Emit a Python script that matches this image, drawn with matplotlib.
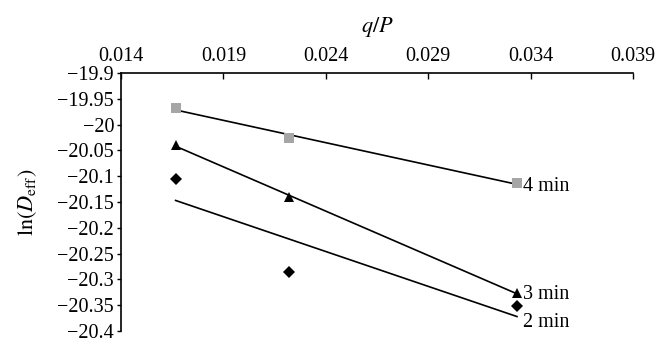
import numpy as np
import matplotlib
matplotlib.use("Agg")
import matplotlib.pyplot as plt

plt.rcParams['font.family'] = ['Liberation Serif', 'DejaVu Serif']
plt.rcParams['mathtext.fontset'] = 'stix'

q_over_p = [1/60, 1/45, 1/30]
series_names = ["2 min", "3 min", "4 min"]
y_2min = [-20.105, -20.285, -20.351]
y_3min = [-20.040, -20.140, -20.327]
y_4min = [-19.968, -20.025, -20.114]
x_ticks = [0.014, 0.019, 0.024, 0.029, 0.034, 0.039]
y_ticks = [-19.9, -19.95, -20, -20.05, -20.1, -20.15, -20.2, -20.25, -20.3, -20.35, -20.4]

fig = plt.figure(figsize=(6.7, 3.49), dpi=100)
ax = fig.add_axes([0.1806, 0.0516, 0.9448 - 0.1806, 0.7908 - 0.0516])

styles = {
    "2 min": dict(marker='D', color='black', ms=6),
    "3 min": dict(marker='^', color='black', ms=7.5),
    "4 min": dict(marker='s', color='#a6a6a6', ms=7),
}
label_offsets = {"2 min": (4, -12), "3 min": (4, -1), "4 min": (4, -2)}
x = np.array(q_over_p)
for name, ys in zip(series_names, [y_2min, y_3min, y_4min]):
    st = styles[name]
    ax.plot(x, ys, linestyle='none', marker=st['marker'], color=st['color'],
            markersize=st['ms'], markeredgewidth=0, zorder=3)
    k, b = np.polyfit(x, ys, 1)
    ax.plot([x[0], x[-1]], [k * x[0] + b, k * x[-1] + b], color='black', lw=1.2, zorder=2)
    ax.annotate(name, xy=(x[-1], ys[-1]), xytext=label_offsets[name], textcoords='offset points',
                ha='left', va='center', fontsize=14.5)

ax.set_xlim(0.014, 0.039)
ax.set_ylim(-20.4, -19.9)
ax.set_xticks(x_ticks)
ax.set_xticklabels([f"{t:.3f}" for t in x_ticks])
ax.set_yticks(y_ticks)
ax.set_yticklabels([f"{t:g}".replace('-', '\u2212') for t in y_ticks])
ax.xaxis.tick_top()
ax.xaxis.set_label_position('top')
ax.tick_params(axis='x', direction='in', length=4, labelsize=14.5, pad=5, width=1)
ax.tick_params(axis='y', direction='out', length=3, labelsize=14.5, pad=2, width=1)
ax.spines['right'].set_visible(False)
ax.spines['bottom'].set_visible(False)
ax.spines['top'].set_linewidth(1.2)
ax.spines['left'].set_linewidth(1.2)
ax.set_xlabel(r'$q/P$', fontsize=16, labelpad=11)
ax.set_ylabel(r'$\mathrm{ln}(D_{\mathrm{eff}})$', fontsize=16, labelpad=13)

fig.savefig('out.png', dpi=100)
